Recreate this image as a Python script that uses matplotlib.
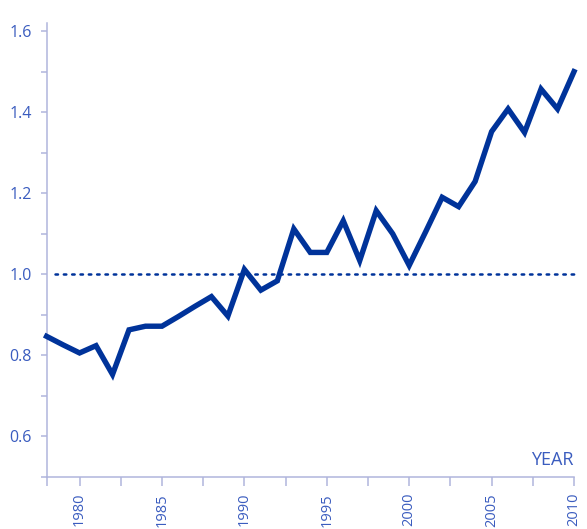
import numpy as np
import matplotlib.pyplot as plt
from matplotlib.ticker import FixedLocator

# values (index, 1.0 = baseline)
years = list(range(1978, 2011))
values = [0.847, 0.826, 0.806, 0.824, 0.753, 0.863, 0.872, 0.872, 0.896, 0.921,
          0.945, 0.897, 1.012, 0.961, 0.984, 1.112, 1.054, 1.054, 1.132, 1.034,
          1.157, 1.100, 1.022, 1.105, 1.190, 1.167, 1.229, 1.352, 1.408, 1.350,
          1.457, 1.408, 1.500]
year_labels = [1980, 1985, 1990, 1995, 2000, 2005, 2010]
y_labels = [0.6, 0.8, 1.0, 1.2, 1.4, 1.6]
baseline = 1.0

LINE = '#00339a'
AXIS = '#b0b5dc'
TEXT = '#3a5cbf'

plt.rcParams['font.family'] = ['Open Sans', 'DejaVu Sans']

fig = plt.figure(figsize=(5.87, 5.29), dpi=100)
ax = fig.add_axes([46.6 / 587, 1 - 477 / 529, (574 - 46.6) / 587, (477 - 23) / 529])

ax.plot(years, values, color=LINE, linewidth=3.9, solid_joinstyle='miter', clip_on=False, zorder=3)

# dotted reference line at 1.0
ax.plot([1978.5, 2010.2], [baseline, baseline], color=LINE, linewidth=1.8,
        linestyle=(0, (1, 2.33)), dash_capstyle='round', clip_on=False, zorder=2)

ax.set_xlim(1978, 2010)
ax.set_ylim(0.5, 1.62)

for side in ['top', 'right']:
    ax.spines[side].set_visible(False)
for side in ['left', 'bottom']:
    ax.spines[side].set_color(AXIS)
    ax.spines[side].set_linewidth(1.1)

ax.xaxis.set_major_locator(FixedLocator(year_labels))
ax.xaxis.set_minor_locator(FixedLocator([1978] + list(np.arange(1982.5, 2010, 5))))
ax.set_xticklabels([str(y) for y in year_labels], rotation=90, va='top')
ax.yaxis.set_major_locator(FixedLocator(y_labels))
ax.yaxis.set_minor_locator(FixedLocator([0.5, 0.7, 0.9, 1.1, 1.3, 1.5]))
ax.set_yticklabels([f'{v:.1f}' for v in y_labels])

ax.tick_params(axis='x', which='both', direction='out', length=6.5, width=1.1, color=AXIS,
               labelcolor=TEXT, labelsize=10.5, pad=5)
ax.tick_params(axis='y', which='both', direction='out', length=4.5, width=1.1, color=AXIS,
               labelcolor=TEXT, labelsize=11.5, pad=6)

ax.text(1.0, 0.026, 'YEAR', transform=ax.transAxes, ha='right', va='baseline',
        fontsize=13, color=TEXT)

fig.savefig('out.png', dpi=100)
